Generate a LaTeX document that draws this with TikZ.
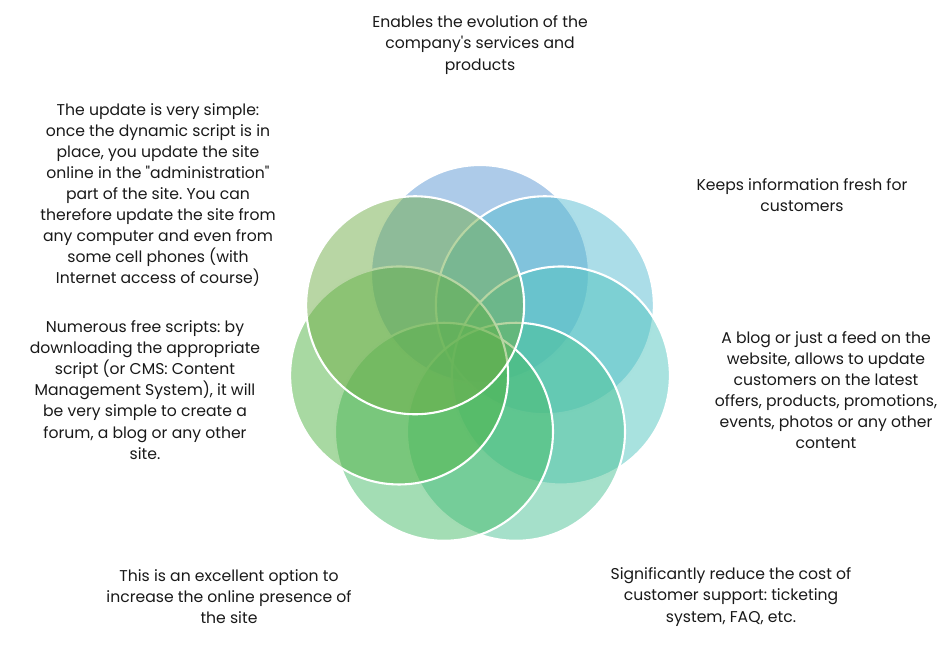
\documentclass[tikz,border=0pt]{standalone}
\usepackage{fontspec}
\setmainfont{Poppins}[Ligatures=TeXOff]
\usetikzlibrary{calc}
\frenchspacing

\definecolor{ringA}{RGB}{91,151,211}
\definecolor{ringB}{RGB}{87,187,209}
\definecolor{ringC}{RGB}{81,197,191}
\definecolor{ringD}{RGB}{75,193,149}
\definecolor{ringE}{RGB}{71,187,105}
\definecolor{ringF}{RGB}{81,179,69}
\definecolor{ringG}{RGB}{113,173,73}

\tikzset{
  petal/.style={draw=white, line width=1.2pt, fill opacity=0.5, draw opacity=1},
  note/.style={align=center, text=black!90, font=\fontsize{8.9}{12}\selectfont, inner sep=0pt}
}

\begin{document}
\begin{tikzpicture}[x=0.02cm, y=-0.02cm]
        \useasboundingbox (0,0) rectangle (943,660);

        % centre of the ring
        \coordinate (hub) at (480,357);

        % seven overlapping circles, drawn clockwise from the top
        \foreach \ang/\col [count=\i] in {90/ringA, 38.57/ringB, -12.86/ringC, -64.29/ringD, -115.71/ringE, -167.14/ringF, 141.43/ringG}
            \draw[petal, fill=\col] ($(hub)+(\ang:83 and -83)$) circle (109);

        \node[note] (t1) at (480,45) {Enables the evolution of the\\company's services and\\products};
        \node[note] (t2) at (802,195) {Keeps information fresh for\\customers};
        \node[note] (t3) at (826,390) {A blog or just a feed on the\\website, allows to update\\customers on the latest\\offers, products, promotions,\\events, photos or any other\\content};
        \node[note] (t4) at (731,597) {Significantly reduce the cost of\\customer support: ticketing\\system, FAQ, etc.};
        \node[note] (t5) at (229,597) {This is an excellent option to\\increase the online presence of\\the site};
        \node[note] (t6) at (145,390) {Numerous free scripts: by\\downloading the appropriate\\script (or CMS: Content\\Management System), it will\\be very simple to create a\\forum, a blog or any other\\site.};
        \node[note] (t7) at (158,195) {The update is very simple:\\once the dynamic script is in\\place, you update the site\\online in the "administration"\\part of the site. You can\\therefore update the site from\\any computer and even from\\some cell phones (with\\Internet access of course)};
\end{tikzpicture}
\end{document}
